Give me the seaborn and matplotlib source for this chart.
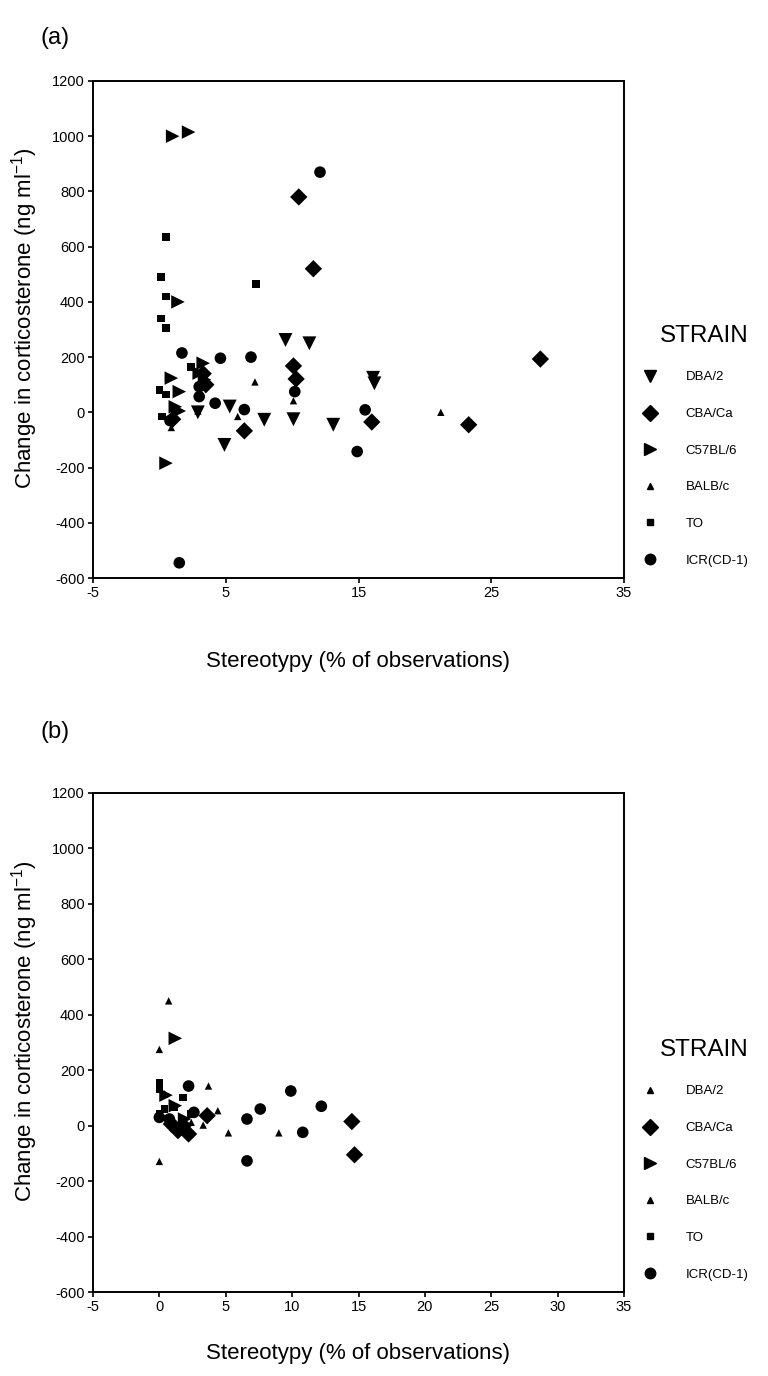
import matplotlib
matplotlib.use('Agg')
import matplotlib.pyplot as plt
import seaborn as sns
import pandas as pd
from matplotlib.lines import Line2D

# strain order as in the legend
strains = ['DBA/2', 'CBA/Ca', 'C57BL/6', 'BALB/c', 'TO', 'ICR(CD-1)']

# ---- panel (a) ----
a_dba_x = [9.5, 11.3, 5.3, 4.9, 7.9, 10.1, 13.1, 16.1, 16.2, 2.9]
a_dba_y = [262, 250, 21, -118, -27, -25, -45, 125, 105, 0]
a_cba_x = [10.5, 11.6, 28.7, 23.3, 16.0, 10.1, 10.3, 6.4, 3.3, 3.5, 1.0]
a_cba_y = [780, 520, 193, -45, -35, 168, 121, -67, 140, 100, -25]
a_c57_x = [1.0, 2.2, 1.4, 3.3, 3.0, 3.4, 0.9, 1.5, 1.2, 1.5, 0.5]
a_c57_y = [1000, 1015, 400, 178, 142, 118, 124, 75, 20, 5, -184]
a_balb_x = [7.2, 5.9, 10.1, 21.2, 0.9, 2.9, 1.1]
a_balb_y = [110, -15, 42, 0, -55, 5, -20]
a_to_x = [0.5, 0.1, 7.3, 0.5, 0.1, 0.5, 2.4, 0.0, 0.2, 0.5]
a_to_y = [635, 490, 465, 420, 340, 305, 165, 81, -15, 65]
a_icr_x = [12.1, 1.7, 4.6, 6.9, 3.0, 3.0, 4.2, 6.4, 10.2, 15.5, 14.9, 1.5, 0.8]
a_icr_y = [870, 215, 196, 200, 93, 57, 33, 10, 75, 9, -142, -545, -30]

# ---- panel (b) ----
b_dba_x = [0.7, 0.0, 5.2, 9.0, 0.0]
b_dba_y = [450, 275, -26, -26, -129]
b_cba_x = [14.5, 14.7, 3.6, 2.2, 1.4, 0.9, 1.8]
b_cba_y = [15, -105, 36, -30, -18, 6, 0]
b_c57_x = [1.2, 1.2, 1.9, 0.5]
b_c57_y = [315, 72, 24, 110]
b_balb_x = [3.7, 4.4, 3.3, 2.4, 0.4, 2.7]
b_balb_y = [143, 54, 2, 12, 115, 55]
b_to_x = [0.0, 0.0, 1.8, 0.0, 0.4, 1.1, 2.4]
b_to_y = [155, 130, 101, 42, 60, 66, 42]
b_icr_x = [2.2, 9.9, 7.6, 12.2, 6.6, 10.8, 6.6, 0.0, 0.75, 2.6]
b_icr_y = [143, 125, 60, 70, 24, -24, -127, 30, 24, 48]


def make_df(xs, ys):
    rows = []
    for s, x, y in zip(strains, xs, ys):
        for xi, yi in zip(x, y):
            rows.append((s, xi, yi))
    return pd.DataFrame(rows, columns=['strain', 'x', 'y'])


df_a = make_df([a_dba_x, a_cba_x, a_c57_x, a_balb_x, a_to_x, a_icr_x],
               [a_dba_y, a_cba_y, a_c57_y, a_balb_y, a_to_y, a_icr_y])
df_b = make_df([b_dba_x, b_cba_x, b_c57_x, b_balb_x, b_to_x, b_icr_x],
               [b_dba_y, b_cba_y, b_c57_y, b_balb_y, b_to_y, b_icr_y])

markers_a = {'DBA/2': 'v', 'CBA/Ca': 'D', 'C57BL/6': '>', 'BALB/c': '^', 'TO': 's', 'ICR(CD-1)': 'o'}
sizes_a = {'DBA/2': 100, 'CBA/Ca': 78, 'C57BL/6': 95, 'BALB/c': 28, 'TO': 30, 'ICR(CD-1)': 70}
# in panel (b) DBA/2 is drawn with the small upward triangle
markers_b = dict(markers_a, **{'DBA/2': '^'})
sizes_b = dict(sizes_a, **{'DBA/2': 28})

sns.set_style('ticks')
plt.rcParams['font.family'] = ['Liberation Sans', 'DejaVu Sans']
plt.rcParams['axes.unicode_minus'] = False
plt.rcParams['text.color'] = 'black'
plt.rcParams['axes.labelcolor'] = 'black'

fig = plt.figure(figsize=(7.68, 13.76), dpi=100)
ax_a = fig.add_axes([93 / 768, 1 - 578 / 1376, 531 / 768, 497 / 1376])
ax_b = fig.add_axes([93 / 768, 1 - 1292 / 1376, 531 / 768, 499 / 1376])

panels = [
    (ax_a, df_a, markers_a, sizes_a, [-5, 5, 15, 25, 35], 578, -0.147),
    (ax_b, df_b, markers_b, sizes_b, list(range(-5, 36, 5)), 1292, -0.102),
]
for ax, df, mk, sz, xt, ybot, xlab_y in panels:
    sns.scatterplot(data=df, x='x', y='y', style='strain', size='strain',
                    markers=mk, sizes=sz, color='black', linewidth=0,
                    legend=False, ax=ax, zorder=3)
    ax.set_xlim(-5, 35)
    ax.set_ylim(-600, 1200)
    ax.set_xticks(xt)
    ax.set_xticklabels([str(v) for v in xt])
    ax.set_yticks(range(-600, 1201, 200))
    ax.tick_params(direction='out', length=3.5, width=1.2, labelsize=10.5,
                   colors='black', pad=2.5)
    for sp in ax.spines.values():
        sp.set_linewidth(1.4)
        sp.set_color('black')
    ax.set_xlabel('Stereotypy (% of observations)', fontsize=16)
    ax.set_ylabel('Change in corticosterone (ng ml$^{\\mathregular{-1}}$)', fontsize=16)
    ax.xaxis.set_label_coords(0.5, xlab_y)
    ax.yaxis.set_label_coords(-0.10, 0.523)

    handles = [Line2D([], [], linestyle='none', marker=mk[s], color='black',
                      markersize=(sz[s] ** 0.5) * 0.9) for s in strains]
    leg = ax.legend(handles, strains, title='STRAIN', loc='lower left',
                    bbox_to_anchor=(634 / 768, 1 - (ybot - 6) / 1376),
                    bbox_transform=fig.transFigure, frameon=False,
                    fontsize=9.5, title_fontsize=17.5, labelspacing=1.85,
                    handlelength=1.6, handletextpad=1.9, borderaxespad=0,
                    labelcolor='black')
    leg.get_title().set_color('black')
    leg._legend_box.align = 'right'

fig.text(40 / 768, 1 - 38 / 1376, '(a)', fontsize=17, va='center', color='black')
fig.text(40 / 768, 1 - 732 / 1376, '(b)', fontsize=17, va='center', color='black')

plt.savefig('out.png', dpi=100)
